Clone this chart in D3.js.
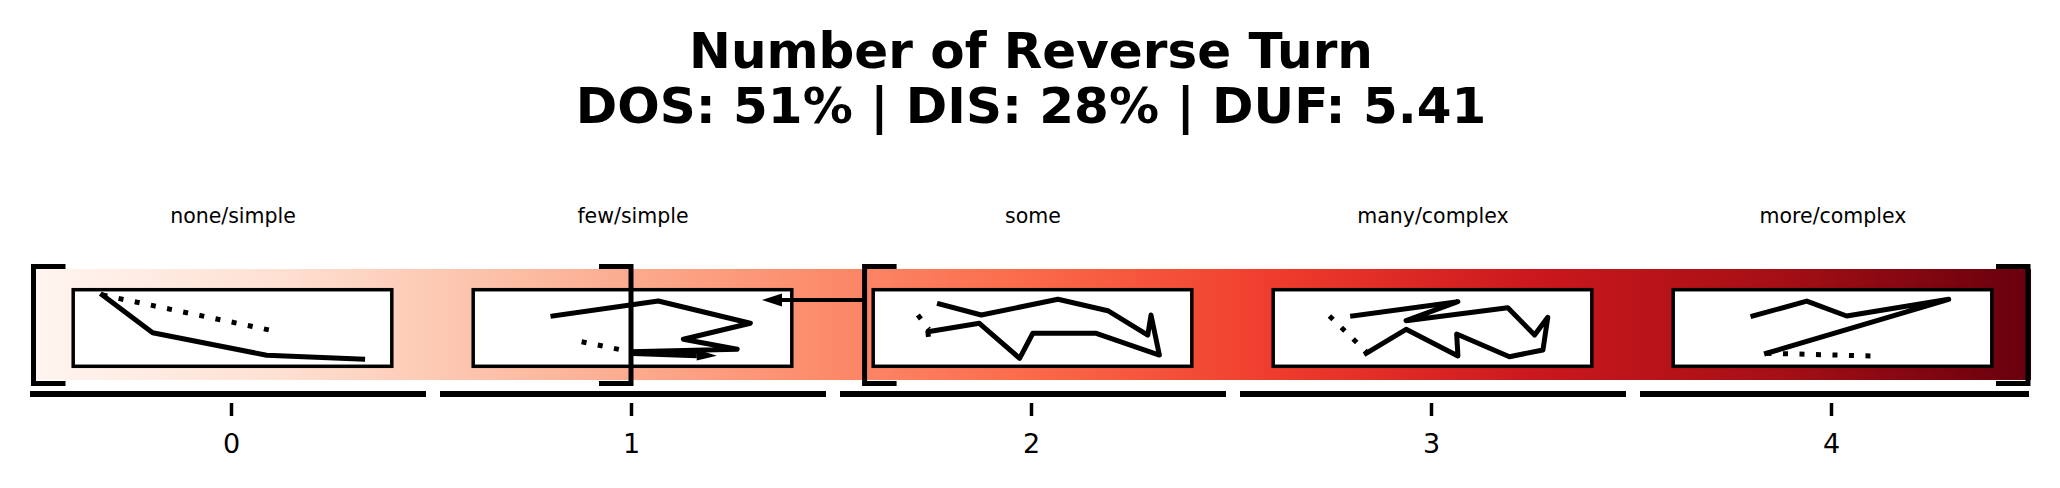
<!DOCTYPE html>
<html>
<head>
<meta charset="utf-8">
<script src="https://cdn.jsdelivr.net/npm/d3@7"></script>
<style>
  html, body { margin: 0; padding: 0; background: #fff; }
  svg { display: block; font-family: "DejaVu Sans", sans-serif; }
</style>
</head>
<body>
<svg id="chart" width="2060" height="488"></svg>
<script>
// ---------------- data ----------------
const titleLines = ["Number of Reverse Turn", "DOS: 51% | DIS: 28% | DUF: 5.41"];
const categories = ["none/simple", "few/simple", "some", "many/complex", "more/complex"];
const tickValues = [0, 1, 2, 3, 4];
const tickLabels = ["0", "1", "2", "3", "4"];
const domainExtent = [-0.5, 4.5];

// Reds colormap stops
const redsColors = ["#fff5f0", "#fee0d2", "#fcbba1", "#fc9272", "#fb6a4a", "#ef3b2c", "#cb181d", "#a50f15", "#67000d"];

// bracket markers: [position, type]
const brackets = [[-0.5, "["], [1.0, "]"], [1.584, "["], [4.5, "]"]];
// arrow from bracket pointing left
const bracketArrow = [1.584, 1.3275];

// sketches inside each box, unit coordinates (u right, w up)
const sketchSolid = [
  [[0.096, 0.912], [0.252, 0.44], [0.606, 0.16], [0.904, 0.11]],
  [[0.253, 0.65], [0.580, 0.837], [0.866, 0.559], [0.658, 0.359], [0.825, 0.234], [0.502, 0.204]],
  [[0.211, 0.80], [0.341, 0.662], [0.579, 0.859], [0.734, 0.716], [0.858, 0.412], [0.868, 0.662], [0.894, 0.162],
   [0.698, 0.434], [0.501, 0.434], [0.460, 0.121], [0.335, 0.559], [0.175, 0.454], [0.176, 0.42]],
  [[0.252, 0.65], [0.579, 0.829], [0.418, 0.591], [0.734, 0.754], [0.817, 0.412], [0.858, 0.634], [0.843, 0.225],
   [0.739, 0.141], [0.575, 0.425], [0.579, 0.15], [0.418, 0.484], [0.294, 0.184]],
  [[0.253, 0.65], [0.42, 0.837], [0.544, 0.65], [0.861, 0.859], [0.295, 0.184]]
];
const sketchDotted = [
  [[0.096, 0.912], [0.615, 0.475]],
  [[0.342, 0.329], [0.492, 0.204]],
  [[0.144, 0.662], [0.178, 0.484]],
  [[0.180, 0.65], [0.294, 0.204]],
  [[0.295, 0.184], [0.627, 0.15]]
];
// thick arrows inside boxes: [boxIndex, from, to]
const sketchArrows = [[1, [0.502, 0.19], [0.762, 0.154]]];

// ---------------- drawing ----------------
const svg = d3.select("#chart");
const x = d3.scaleLinear().domain(domainExtent).range([31, 2031]);

// title
svg.append("g").selectAll("text").data(titleLines).join("text")
  .attr("x", x(2)).attr("y", (d, i) => 68 + i * 55)
  .attr("text-anchor", "middle")
  .attr("font-weight", "bold").attr("font-size", 50)
  .text(d => d);

// category labels
svg.append("g").selectAll("text").data(categories).join("text")
  .attr("x", (d, i) => x(i) + 2).attr("y", 223)
  .attr("text-anchor", "middle").attr("font-size", 20.5)
  .text(d => d);

// gradient band
const defs = svg.append("defs");
const grad = defs.append("linearGradient").attr("id", "reds")
  .attr("gradientUnits", "userSpaceOnUse")
  .attr("x1", x(domainExtent[0])).attr("x2", x(domainExtent[1])).attr("y1", 0).attr("y2", 0);
grad.selectAll("stop").data(redsColors).join("stop")
  .attr("offset", (d, i) => i / (redsColors.length - 1))
  .attr("stop-color", d => d);

svg.append("rect")
  .attr("x", x(domainExtent[0])).attr("y", 269)
  .attr("width", x(domainExtent[1]) - x(domainExtent[0])).attr("height", 111)
  .attr("fill", "url(#reds)");

// boxes with sketches
const bx = d3.scaleLinear().domain([0, 1]).range([-161, 161]);
const by = d3.scaleLinear().domain([0, 1]).range([368, 288]);
const line = d3.line().x(d => bx(d[0])).y(d => by(d[1]));

const boxes = svg.append("g").selectAll("g").data(categories).join("g")
  .attr("transform", (d, i) => `translate(${x(i) + 1.5},0)`);

boxes.append("rect")
  .attr("x", bx(0) + 1.7).attr("y", by(1) + 1.7)
  .attr("width", bx(1) - bx(0) - 3.4).attr("height", by(0) - by(1) - 3.4)
  .attr("fill", "#fff").attr("stroke", "#000").attr("stroke-width", 3.5);

boxes.append("path")
  .attr("d", (d, i) => line(sketchSolid[i]))
  .attr("fill", "none").attr("stroke", "#000").attr("stroke-width", 5)
  .attr("stroke-linejoin", "round").attr("stroke-linecap", "square");

boxes.append("path")
  .attr("d", (d, i) => line(sketchDotted[i]))
  .attr("fill", "none").attr("stroke", "#000").attr("stroke-width", 5)
  .attr("stroke-dasharray", "5 11.5").attr("stroke-linecap", "butt");

function arrowPath(x1, y1, x2, y2, headLen, headHalf) {
  const a = Math.atan2(y2 - y1, x2 - x1);
  const bxp = x2 - headLen * Math.cos(a), byp = y2 - headLen * Math.sin(a);
  const nx = -Math.sin(a), ny = Math.cos(a);
  return { shaft: [x1, y1, bxp, byp],
    head: `M${x2},${y2}L${bxp + nx * headHalf},${byp + ny * headHalf}L${bxp - nx * headHalf},${byp - ny * headHalf}Z` };
}

sketchArrows.forEach(([bi, p0, p1]) => {
  const g = boxes.filter((d, i) => i === bi);
  const ap = arrowPath(bx(p0[0]), by(p0[1]), bx(p1[0]), by(p1[1]), 20, 5.5);
  g.append("line")
    .attr("x1", ap.shaft[0]).attr("y1", ap.shaft[1]).attr("x2", ap.shaft[2]).attr("y2", ap.shaft[3])
    .attr("stroke", "#000").attr("stroke-width", 6.5);
  g.append("path").attr("d", ap.head).attr("fill", "#000");
});

// brackets
const bracketG = svg.append("g");
brackets.forEach(([v, t]) => {
  const inset = (v === domainExtent[0]) ? 2.5 : (v === domainExtent[1] ? -3 : 0);
  const bxv = x(v) + inset;
  const dir = t === "[" ? 1 : -1;
  bracketG.append("path")
    .attr("d", `M${bxv + dir * 32},266.5H${bxv}V383.5H${bxv + dir * 32}`)
    .attr("fill", "none").attr("stroke", "#000").attr("stroke-width", 5)
    .attr("stroke-linejoin", "miter").attr("stroke-linecap", "butt");
});

// arrow from bracket
{
  const ap = arrowPath(x(bracketArrow[0]), 300, x(bracketArrow[1]), 300, 20, 6.5);
  svg.append("line")
    .attr("x1", ap.shaft[0]).attr("y1", 300).attr("x2", ap.shaft[2]).attr("y2", 300)
    .attr("stroke", "#000").attr("stroke-width", 3.8);
  svg.append("path").attr("d", ap.head).attr("fill", "#000");
}

// category underline segments
svg.append("g").selectAll("line").data(tickValues).join("line")
  .attr("x1", (d, i) => i === 0 ? x(d - 0.5) - 1 : x(d - 0.5) + 9)
  .attr("x2", (d, i) => i === tickValues.length - 1 ? x(d + 0.5) - 2 : x(d + 0.5) - 5)
  .attr("y1", 394).attr("y2", 394)
  .attr("stroke", "#000").attr("stroke-width", 6);

// x axis ticks
const axis = d3.axisBottom(x).tickValues(tickValues)
  .tickFormat((d, i) => tickLabels[i]).tickSize(13).tickPadding(17.5);
const ax = svg.append("g").attr("transform", "translate(0,403)").call(axis);
ax.select(".domain").remove();
ax.selectAll(".tick line").attr("stroke", "#000").attr("stroke-width", 3.5);
ax.selectAll(".tick text").attr("font-size", 27).attr("font-family", "DejaVu Sans").attr("fill", "#000");
</script>
</body>
</html>
